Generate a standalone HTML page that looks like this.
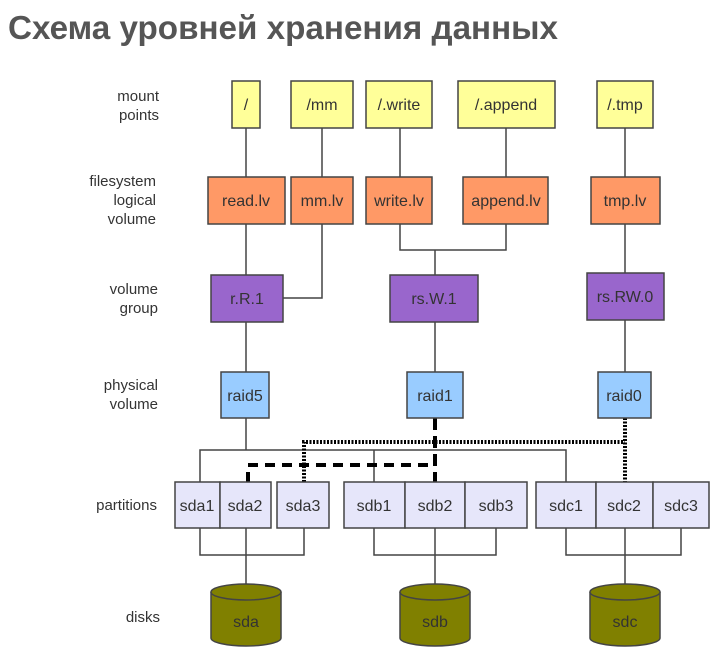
<!DOCTYPE html>
<html><head><meta charset="utf-8"><style>
html,body{margin:0;padding:0;background:#fff;}
svg{display:block;}
text{font-family:"Liberation Sans",sans-serif;}
</style></head><body>
<svg width="716" height="663" viewBox="0 0 716 663" xmlns="http://www.w3.org/2000/svg">
<text x="8" y="39" font-size="33" font-weight="bold" fill="#555" textLength="550" lengthAdjust="spacingAndGlyphs" style="font-family:'Liberation Sans','DejaVu Sans',sans-serif">Схема уровней хранения данных</text>

<g font-size="15" fill="#333" text-anchor="end">
<text x="159" y="101">mount</text><text x="159" y="120">points</text>
<text x="156" y="186">filesystem</text><text x="156" y="205">logical</text><text x="156" y="224">volume</text>
<text x="158" y="294">volume</text><text x="158" y="313">group</text>
<text x="158" y="390">physical</text><text x="158" y="409">volume</text>
<text x="157" y="510">partitions</text>
<text x="160" y="622">disks</text>
</g>

<g stroke="#444" stroke-width="1.5" fill="none">
<line x1="246" y1="128" x2="246" y2="177"/>
<line x1="322" y1="128" x2="322" y2="177"/>
<line x1="400" y1="128" x2="400" y2="177"/>
<line x1="506" y1="128" x2="506" y2="177"/>
<line x1="625" y1="128" x2="625" y2="177"/>
<line x1="246" y1="224" x2="246" y2="275"/>
<polyline points="322,224 322,298 283,298"/>
<polyline points="400,224 400,250 506,250 506,224"/>
<line x1="435" y1="250" x2="435" y2="275"/>
<line x1="625" y1="224" x2="625" y2="273"/>
<line x1="246" y1="322" x2="246" y2="372"/>
<line x1="435" y1="322" x2="435" y2="372"/>
<line x1="625" y1="320" x2="625" y2="372"/>
<line x1="246" y1="418" x2="246" y2="450"/>
<polyline points="200,482 200,450 566,450 566,482"/>
<line x1="374" y1="450" x2="374" y2="482"/>
<polyline points="200,528 200,555 304,555 304,528"/>
<polyline points="374,528 374,555 496,555 496,528"/>
<polyline points="566,528 566,555 681,555 681,528"/>
<line x1="246" y1="528" x2="246" y2="592"/>
<line x1="435" y1="528" x2="435" y2="592"/>
<line x1="625" y1="528" x2="625" y2="592"/>
</g>
<g stroke="#000" stroke-width="4" fill="none">
<polyline points="248,482 248,465 435,465" stroke-dasharray="10,7"/>
<line x1="435" y1="418" x2="435" y2="482" stroke-dasharray="12,6"/>
<polyline points="304,482 304,442 625,442" stroke-dasharray="2,1.5"/>
<line x1="625" y1="418" x2="625" y2="482" stroke-dasharray="2,1.5"/>
</g>

<g stroke="#444" stroke-width="1.5" font-size="16" text-anchor="middle">
<g fill="#ffff99">
<rect x="232" y="81" width="28" height="47"/><rect x="291" y="81" width="62" height="47"/>
<rect x="366" y="81" width="66" height="47"/><rect x="458" y="81" width="97" height="47"/>
<rect x="597" y="81" width="56" height="47"/>
</g>
<g fill="#ff9966">
<rect x="208" y="177" width="77" height="47"/><rect x="291" y="177" width="62" height="47"/>
<rect x="366" y="177" width="66" height="47"/><rect x="463" y="177" width="85" height="47"/>
<rect x="591" y="177" width="69" height="47"/>
</g>
<g fill="#9966cc">
<rect x="211" y="275" width="72" height="47"/><rect x="390" y="275" width="88" height="47"/>
<rect x="587" y="273" width="77" height="47"/>
</g>
<g fill="#99ccff">
<rect x="221" y="372" width="48" height="46"/><rect x="407" y="372" width="56" height="46"/>
<rect x="598" y="372" width="53" height="46"/>
</g>
<g fill="#e6e6fa">
<rect x="175" y="482" width="45" height="46"/><rect x="220" y="482" width="51" height="46"/>
<rect x="277" y="482" width="52" height="46"/>
<rect x="344" y="482" width="61" height="46"/><rect x="405" y="482" width="60" height="46"/><rect x="465" y="482" width="62" height="46"/>
<rect x="536" y="482" width="60" height="46"/><rect x="596" y="482" width="57" height="46"/><rect x="653" y="482" width="56" height="46"/>
</g>
<g fill="#808000">
<path d="M211,592 L211,638 A35,8 0 0 0 281,638 L281,592"/><ellipse cx="246" cy="592" rx="35" ry="8"/>
<path d="M400,592 L400,638 A35,8 0 0 0 470,638 L470,592"/><ellipse cx="435" cy="592" rx="35" ry="8"/>
<path d="M590,592 L590,638 A35,8 0 0 0 660,638 L660,592"/><ellipse cx="625" cy="592" rx="35" ry="8"/>
</g>
<g stroke="none" fill="#333">
<text x="246" y="110">/</text><text x="322" y="110">/mm</text><text x="399" y="110">/.write</text><text x="506" y="110">/.append</text><text x="625" y="110">/.tmp</text>
<text x="246" y="206">read.lv</text><text x="322" y="206">mm.lv</text><text x="399" y="206">write.lv</text><text x="506" y="206">append.lv</text><text x="625" y="206">tmp.lv</text>
<text x="247" y="304">r.R.1</text><text x="434" y="304">rs.W.1</text><text x="625" y="302">rs.RW.0</text>
<text x="245" y="401">raid5</text><text x="435" y="401">raid1</text><text x="624" y="401">raid0</text>
<text x="197" y="511">sda1</text><text x="245" y="511">sda2</text><text x="303" y="511">sda3</text>
<text x="374" y="511">sdb1</text><text x="435" y="511">sdb2</text><text x="496" y="511">sdb3</text>
<text x="566" y="511">sdc1</text><text x="624" y="511">sdc2</text><text x="681" y="511">sdc3</text>
<text x="246" y="627">sda</text><text x="435" y="627">sdb</text><text x="625" y="627">sdc</text>
</g>
</g>
</svg>
</body></html>
